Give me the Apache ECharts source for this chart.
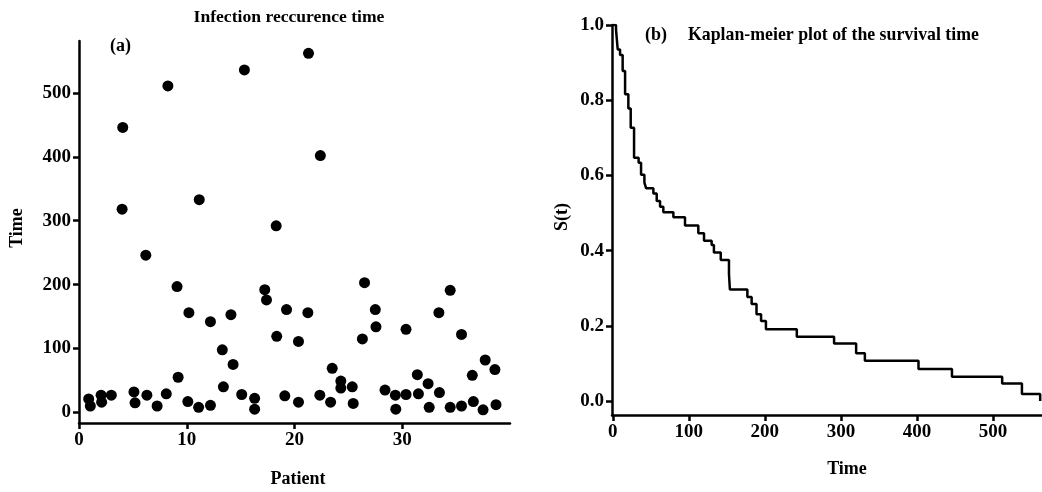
<!DOCTYPE html>
<html>
<head>
<meta charset="utf-8">
<script src="https://cdn.jsdelivr.net/npm/echarts@6/dist/echarts.min.js"></script>
<style>
html,body{margin:0;padding:0;background:#fff;}
#chart{width:1042px;height:492px;}
</style>
</head>
<body>
<div id="chart"></div>
<script>
// ---- Panel (a): infection recurrence times (jittered patient position, time) ----
var patientPos = [0.9, 1.05, 2.05, 2.1, 3.0, 4.0, 4.06, 5.1, 5.2, 6.2, 6.3, 7.25, 8.1, 8.25, 9.1, 9.2,
  10.1, 10.2, 11.1, 11.16, 12.2, 12.2, 13.3, 13.4, 14.1, 14.3, 15.1, 15.35, 16.3, 16.3, 17.24, 17.4,
  18.3, 18.35, 19.1, 19.26, 20.37, 20.37, 21.24, 21.3, 22.35, 22.4, 23.35, 23.5, 24.3, 24.3, 25.36, 25.45,
  26.3, 26.5, 27.5, 27.56, 28.4, 29.36, 29.4, 30.35, 30.35, 31.4, 31.5, 32.4, 32.5, 33.4, 33.45, 34.45,
  34.45, 35.5, 35.5, 36.5, 36.6, 37.5, 37.7, 38.6, 38.7];
var recurTime = [21, 10, 27, 16, 27, 318, 446, 32, 15, 246, 27, 10, 29, 511, 197, 55,
  17, 156, 8, 333, 142, 11, 98, 40, 153, 75, 28, 536, 22, 5, 192, 176,
  292, 119, 26, 161, 111, 16, 156, 562, 27, 402, 16, 69, 49, 38, 40, 14,
  115, 203, 161, 134, 35, 27, 5, 130, 28, 59, 29, 45, 8, 156, 31, 191,
  8, 122, 10, 58, 17, 4, 82, 67, 12];
var aXTicks = [0, 10, 20, 30];
var aYTicks = [0, 100, 200, 300, 400, 500];

// ---- Panel (b): Kaplan-Meier step curve ----
var kmTime = [0, 4.3, 6.5, 9.6, 13, 16.2, 20.5, 23.6, 28, 34, 37.2, 41.6, 43.8, 53.4, 57.8, 62.2, 66.5,
  79.7, 95, 112.5, 120, 130, 133, 142, 152.8, 154, 177, 182.6, 189, 195, 201.4, 242, 291, 320, 331.5,
  402, 446, 512, 538, 562];
var kmSurv = [1.0, 0.987, 0.935, 0.92, 0.878, 0.816, 0.778, 0.727, 0.647, 0.634, 0.602, 0.581, 0.566,
  0.552, 0.532, 0.517, 0.502, 0.489, 0.467, 0.446, 0.426, 0.415, 0.395, 0.375, 0.338, 0.297, 0.277,
  0.258, 0.231, 0.213, 0.191, 0.171, 0.153, 0.127, 0.107, 0.085, 0.065, 0.047, 0.019, 0];
var bXTicks = [0, 100, 200, 300, 400, 500];
var bYTicks = [0, 0.2, 0.4, 0.6, 0.8, 1.0];

var FONT = "'Liberation Serif', 'DejaVu Serif', serif";
var scatterData = patientPos.map(function (x, i) { return [x, recurTime[i]]; });
var kmData = kmTime.map(function (t, i) { return [t, kmSurv[i]]; });

function axisCommon(ticks, fmt) {
  return {
    axisLine: { show: true, onZero: false, lineStyle: { color: '#000', width: 2.5 } },
    axisTick: { show: true, customValues: ticks, length: 6, lineStyle: { color: '#000', width: 2.5 } },
    axisLabel: { customValues: ticks, color: '#000', fontFamily: FONT, fontWeight: 'bold', fontSize: 19,
      formatter: fmt },
    splitLine: { show: false }
  };
}
function merge(a, b) { for (var k in b) a[k] = b[k]; return a; }

var chart = echarts.init(document.getElementById('chart'), null, { renderer: 'canvas' });
var option = {
  backgroundColor: '#fff',
  animation: false,
  grid: [
    { left: 79, top: 41, width: 431, height: 382 },
    { left: 612, top: 25, width: 429.7, height: 390 }
  ],
  xAxis: [
    merge({ type: 'value', gridIndex: 0, min: 0, max: 40 }, axisCommon(aXTicks, function (v) { return String(v); })),
    merge({ type: 'value', gridIndex: 1, min: -1, max: 564 }, axisCommon(bXTicks, function (v) { return String(v); }))
  ],
  yAxis: [
    merge({ type: 'value', gridIndex: 0, min: -16.6, max: 581.3 }, axisCommon(aYTicks, function (v) { return String(v); })),
    merge({ type: 'value', gridIndex: 1, min: -0.037, max: 1.0 }, axisCommon(bYTicks, function (v) { return v.toFixed(1); }))
  ],
  series: [
    { type: 'scatter', xAxisIndex: 0, yAxisIndex: 0, data: scatterData, symbol: 'circle', symbolSize: 11,
      itemStyle: { color: '#000', opacity: 1 }, silent: true },
    { type: 'line', xAxisIndex: 1, yAxisIndex: 1, data: kmData, step: 'end', showSymbol: false,
      lineStyle: { color: '#000', width: 2.5 }, silent: true }
  ],
  graphic: [
    { type: 'text', x: 289, y: 17, style: { text: 'Infection reccurence time', fill: '#000', font: 'bold 17.6px ' + FONT, align: 'center', verticalAlign: 'middle' } },
    { type: 'text', x: 110, y: 46, style: { text: '(a)', fill: '#000', font: 'bold 18px ' + FONT, align: 'left', verticalAlign: 'middle' } },
    { type: 'text', x: 645, y: 35, style: { text: '(b)', fill: '#000', font: 'bold 18px ' + FONT, align: 'left', verticalAlign: 'middle' } },
    { type: 'text', x: 688, y: 35, style: { text: 'Kaplan-meier plot of the survival time', fill: '#000', font: 'bold 17.8px ' + FONT, align: 'left', verticalAlign: 'middle' } },
    { type: 'text', x: 17.5, y: 228, rotation: Math.PI / 2, style: { text: 'Time', fill: '#000', font: 'bold 18px ' + FONT, align: 'center', verticalAlign: 'middle' } },
    { type: 'text', x: 298, y: 479, style: { text: 'Patient', fill: '#000', font: 'bold 18px ' + FONT, align: 'center', verticalAlign: 'middle' } },
    { type: 'text', x: 562, y: 217, rotation: Math.PI / 2, style: { text: 'S(t)', fill: '#000', font: 'bold 18px ' + FONT, align: 'center', verticalAlign: 'middle' } },
    { type: 'text', x: 847, y: 469, style: { text: 'Time', fill: '#000', font: 'bold 18px ' + FONT, align: 'center', verticalAlign: 'middle' } }
  ]
};
chart.setOption(option);
</script>
</body>
</html>
